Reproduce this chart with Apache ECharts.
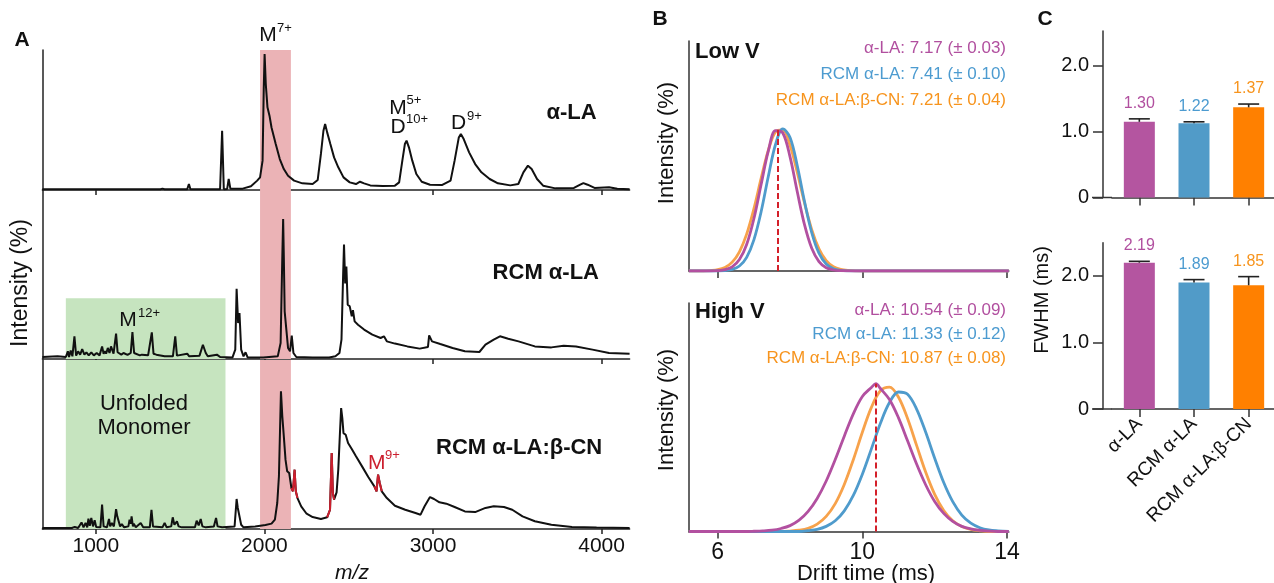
<!DOCTYPE html>
<html><head><meta charset="utf-8">
<script src="https://cdn.jsdelivr.net/npm/echarts@6/dist/echarts.min.js"></script>
<style>html,body{margin:0;padding:0;background:#fff}#c{width:1274px;height:583px}</style>
</head><body><div id="c"></div>
<script>
// ---------------- DATA ----------------
// Panel A: mass spectra [m/z, intensity %]
const mzTicks = [1000, 2000, 3000, 4000];
const specALA = [[683,0.5],[1383,0.5],[1395,1.0],[1408,0.5],[1542,0.5],[1552,4.4],[1561,0.5],[1737,0.5],[1749,43.6],[1759,0.6],[1779,0.8],[1788,8.1],[1798,1.0],[1871,1.0],[1920,2.7],[1957,6.9],[1974,9.3],[1989,21.6],[1996,75],[2001,100],[2008,78],[2018,60.8],[2030,54.7],[2042,46],[2067,33.8],[2091,22.8],[2115,15.4],[2140,10.5],[2176,6.9],[2225,4.9],[2286,4.4],[2316,7.4],[2335,26.5],[2350,43.6],[2360,48.5],[2372,42.4],[2391,33.8],[2413,24],[2438,16.7],[2469,9.3],[2506,5.6],[2543,4.4],[2567,6.1],[2591,4.9],[2628,3.4],[2701,2.9],[2774,3.2],[2799,5.6],[2818,21.6],[2833,33.8],[2843,36.3],[2857,31.4],[2877,21.6],[2901,11.8],[2933,6.1],[2982,3.9],[3055,3.7],[3104,6.9],[3128,21.6],[3153,38.7],[3165,41.2],[3182,37.5],[3214,27.7],[3250,19.1],[3287,13],[3336,8.1],[3385,4.9],[3458,3.4],[3506,4.4],[3536,13],[3563,17.9],[3585,15.4],[3617,8.1],[3653,3.2],[3726,1.2],[3836,1.5],[3873,3.9],[3892,5.1],[3917,3.9],[3958,1.5],[4044,2.0],[4093,1],[4166,0.5]];
const specRCM = [[683,1.4],[773,1.9],[822,1.4],[834,5.5],[841,1.4],[851,6.0],[861,1.9],[873,16.2],[883,2.4],[895,5.5],[907,3.1],[919,7.1],[932,3.1],[944,4.8],[958,2.6],[973,4.8],[988,2.6],[1005,4.3],[1022,2.6],[1037,9.0],[1046,3.8],[1054,5.5],[1061,3.8],[1071,7.9],[1081,4.3],[1090,9.0],[1105,3.8],[1120,18.1],[1129,4.8],[1139,5.5],[1151,3.1],[1164,4.3],[1188,2.9],[1207,4.3],[1217,19.3],[1227,4.3],[1237,4.3],[1261,2.6],[1273,3.1],[1310,2.6],[1332,19],[1342,3.8],[1359,3.1],[1408,1.9],[1457,1.9],[1471,16.2],[1481,2.4],[1542,3.8],[1554,1.9],[1615,2.4],[1635,10.2],[1652,4.3],[1664,1.9],[1718,3.1],[1737,1.4],[1810,1.0],[1827,6.7],[1835,50.2],[1844,25.7],[1852,32.9],[1862,6.7],[1876,1.9],[1888,4.8],[1901,1.0],[1993,1.0],[2079,1.9],[2096,11.4],[2106,73],[2111,100],[2115,73],[2120,34],[2130,21],[2140,7.9],[2152,5.5],[2162,16.7],[2172,4.3],[2189,1.4],[2286,1.0],[2384,1.0],[2421,1.9],[2445,4.3],[2457,13.8],[2467,61],[2472,81.7],[2479,54],[2486,66],[2494,38.8],[2506,37.6],[2518,30.5],[2525,34.8],[2535,26.9],[2555,24.5],[2591,21],[2640,17.4],[2689,15],[2709,16.2],[2726,12.6],[2774,11],[2848,9],[2921,7.4],[2970,8.6],[2977,16.9],[2994,12.6],[3043,10.7],[3116,7.9],[3189,5.5],[3275,5],[3311,10.2],[3360,13.8],[3397,16.2],[3446,14.5],[3507,12.6],[3604,9],[3702,8.3],[3775,9.5],[3848,9],[3946,6.7],[4044,4.3],[4166,3.8]];
const specMix = [[683,0.7],[858,0.7],[875,1.5],[895,0.7],[915,4.8],[927,1.2],[939,4.4],[949,1.2],[956,7.5],[964,2.4],[973,8.0],[983,1.9],[993,6.3],[1002,1.5],[1012,1.9],[1027,1.2],[1037,17.7],[1046,1.9],[1054,3.1],[1066,1.2],[1078,7.3],[1085,1.9],[1095,4.4],[1107,1.9],[1120,14.5],[1127,9.2],[1134,10.4],[1144,1.9],[1154,3.6],[1168,1.2],[1193,1.9],[1200,6.8],[1207,3.9],[1212,9.2],[1220,1.9],[1225,3.9],[1237,1.2],[1266,4.4],[1281,1.2],[1320,1.2],[1330,14],[1339,1.9],[1395,1.2],[1408,4.4],[1420,1.2],[1447,1.9],[1456,8.5],[1466,3.1],[1481,5.6],[1491,1.9],[1500,3.1],[1510,1.2],[1588,1.2],[1598,6],[1610,2.6],[1622,7.3],[1632,1.9],[1639,3.1],[1652,1.2],[1700,1.9],[1713,8],[1722,1.9],[1749,1.2],[1823,1.9],[1835,21.8],[1842,15.3],[1849,14],[1862,3.1],[1876,1.2],[1945,1.9],[2006,2.9],[2042,3.9],[2062,6.8],[2076,18.9],[2086,38.3],[2093,74.6],[2098,100],[2106,81.8],[2115,67.3],[2125,50.4],[2135,41.9],[2147,40.7],[2160,29.8],[2169,27.4],[2179,43.1],[2186,27.4],[2196,22.5],[2218,16.5],[2250,11.1],[2286,8.7],[2335,7.3],[2372,8.5],[2389,14],[2399,55.2],[2406,26.2],[2413,21.3],[2428,26.6],[2438,43.1],[2447,67.3],[2455,87.9],[2462,80.6],[2469,69.7],[2482,68.5],[2496,62.5],[2518,58.1],[2543,52.8],[2579,45.5],[2616,37.8],[2652,31],[2665,27.4],[2674,39.5],[2684,33.4],[2696,27.4],[2726,22.5],[2774,16.9],[2835,14],[2896,11.6],[2926,10.4],[2950,16.5],[2982,23.2],[3006,21.8],[3038,19.4],[3079,18.4],[3128,16],[3189,12.8],[3250,12.3],[3311,15.3],[3360,16.5],[3421,16],[3470,14],[3531,9.2],[3604,5.6],[3702,3.1],[3824,1.5],[3970,1.0],[4166,0.7]];
const redRanges = [[2158,2197],[2370,2414],[2650,2700]];   // m/z ranges drawn in red
const bandM7 = [1974, 2157];        // pink band
const bandUnfolded = [822, 1769];   // green band

// Panel B: arrival time distributions [drift time ms, intensity]
const driftTicks = [6, 10, 14];
const lowALA = [[5.2,0],[5.8,0],[6.0,0.2],[6.2,0.9],[6.4,2.9],[6.6,8.0],[6.8,18.6],[7.0,36.7],[7.2,60.7],[7.4,84.3],[7.6,98.6],[7.8,96.9],[8.0,80.1],[8.2,55.6],[8.4,32.5],[8.6,15.9],[8.8,6.6],[9.0,2.3],[9.2,0.7],[9.4,0.2],[9.8,0],[14.05,0]];
const lowRCM = [[5.2,0],[6.0,0],[6.2,0.3],[6.4,1.1],[6.6,3.5],[6.8,9.6],[7.0,21.9],[7.2,41.6],[7.4,66.5],[7.6,89.0],[7.8,99.8],[8.0,93.8],[8.2,73.9],[8.4,48.8],[8.6,27.0],[8.8,12.5],[9.0,4.9],[9.2,1.6],[9.4,0.4],[9.6,0.1],[10.0,0],[14.05,0]];
const lowMix = [[5.2,0],[5.6,0],[5.8,0.3],[6.0,0.9],[6.2,2.5],[6.4,6.2],[6.6,13.5],[6.8,25.9],[7.0,43.7],[7.2,65.0],[7.4,84.9],[7.6,97.7],[7.8,99.0],[8.0,88.2],[8.2,69.2],[8.4,47.8],[8.6,29.1],[8.8,15.6],[9.0,7.3],[9.2,3.0],[9.4,1.1],[9.6,0.4],[10.0,0],[14.05,0]];
const highALA = [[5.2,0],[6.75,0],[7.0,0.15],[7.25,0.4],[7.5,0.9],[7.75,2.0],[8.0,3.9],[8.25,7.5],[8.5,13.3],[8.75,21.9],[9.0,33.5],[9.25,47.7],[9.5,63.2],[9.75,78.0],[10.0,89.5],[10.25,95.5],[10.375,98],[10.5,94.8],[10.75,87.5],[11.0,75.3],[11.25,60.1],[11.5,44.7],[11.75,31.0],[12.0,19.9],[12.25,12.0],[12.5,6.7],[12.75,3.4],[13.0,1.7],[13.25,0.8],[13.5,0.3],[13.75,0],[14.05,0]];
const highRCM = [[5.2,0],[8.25,0],[8.5,0.56],[8.75,1.4],[9.0,3.4],[9.25,7.1],[9.5,13.7],[9.75,23.9],[10.0,38.0],[10.25,54.8],[10.5,71.8],[10.75,85.5],[11.0,92.5],[11.25,91.0],[11.5,81.2],[11.75,65.9],[12.0,48.6],[12.25,32.5],[12.5,19.8],[12.75,10.9],[13.0,5.5],[13.25,2.5],[13.5,1.0],[13.75,0.4],[14.05,0]];
const highMix = [[5.2,0],[7.75,0],[8.0,0.3],[8.25,0.85],[8.5,2.1],[8.75,4.9],[9.0,10.0],[9.25,18.5],[9.5,31.2],[9.75,47.6],[10.0,65.8],[10.25,82.3],[10.5,93.3],[10.75,95.7],[11.0,89.0],[11.25,74.9],[11.5,57.1],[11.75,39.4],[12.0,24.6],[12.25,13.9],[12.5,7.1],[12.75,3.3],[13.0,1.4],[13.25,0.5],[13.5,0],[14.05,0]];
const lowPeakALA = [7.66, 99];    // dashed marker (drift, height)
const highPeakALA = [10.37, 98];
const lowLegend = ['α-LA: 7.17 (± 0.03)', 'RCM α-LA: 7.41 (± 0.10)', 'RCM α-LA:β-CN: 7.21 (± 0.04)'];
const highLegend = ['α-LA: 10.54 (± 0.09)', 'RCM α-LA: 11.33 (± 0.12)', 'RCM α-LA:β-CN: 10.87 (± 0.08)'];

// Panel C: FWHM bars
const fwhmCats = ['α-LA', 'RCM α-LA', 'RCM α-LA:β-CN'];
const fwhmTicks = [0, 1, 2];
const lowFwhm = [1.15, 1.13, 1.37];
const lowErr = [0.045, 0.02, 0.05];
const lowLabels = ['1.30', '1.22', '1.37'];
const highFwhm = [2.20, 1.90, 1.86];
const highErr = [0.02, 0.045, 0.13];
const highLabels = ['2.19', '1.89', '1.85'];

// ---------------- STYLE ----------------
const F = "'Liberation Sans', Arial, Helvetica, sans-serif";
const PURPLE = '#b455a0', BLUE = '#519bc8', ORANGE = '#ff8000';
const LP = '#b250a0', LB = '#4f9bcc', LO = '#f7a24b';
const TP = '#b14f9f', TB = '#4c9bd0', TO = '#f7941d';
const RED = '#cc1f2e', PINK = '#ebb3b6', GREEN = '#c6e4bf';
const AX = '#222';
const A_MAX = [103, 120.7, 122.8];

const chart = echarts.init(document.getElementById('c'), null, {renderer: 'canvas'});

const gridsA = [
  {left: 42.4, width: 587.2, top: 50, height: 140},
  {left: 42.4, width: 587.2, top: 190, height: 169},
  {left: 42.4, width: 587.2, top: 360, height: 169}
];
const gridsB = [
  {left: 688.8, width: 320, top: 41, height: 230},
  {left: 688.8, width: 320, top: 303, height: 228.5}
];
const gridsC = [
  {left: 1112, width: 164, top: 31, height: 166.5},
  {left: 1112, width: 164, top: 242.7, height: 166.3}
];
const grid = [...gridsA, ...gridsB, ...gridsC].map(g => Object.assign({containLabel: false, outerBoundsMode: 'none'}, g));

const xAxis = [], yAxis = [], series = [];
const plain = v => String(v);

// Panel A axes
for (let i = 0; i < 3; i++) {
  xAxis.push({type: 'value', gridIndex: i, min: 683, max: 4166,
    axisLine: {show: true, onZero: false, lineStyle: {color: AX, width: 1.5}},
    axisTick: {show: true, length: 5, customValues: mzTicks, lineStyle: {color: AX, width: 1.5}},
    axisLabel: {show: i === 2, customValues: mzTicks, formatter: plain, fontFamily: F, fontSize: 21, color: '#111', margin: 7},
    splitLine: {show: false}});
  yAxis.push({type: 'value', gridIndex: i, min: 0, max: A_MAX[i],
    axisLine: {show: true, lineStyle: {color: AX, width: 1.5}},
    axisTick: {show: false}, axisLabel: {show: false}, splitLine: {show: false}});
}
// Panel B axes
for (let i = 0; i < 2; i++) {
  xAxis.push({type: 'value', gridIndex: 3 + i, min: 5.2, max: 14.05,
    axisLine: {show: true, onZero: false, lineStyle: {color: '#333', width: 1.5}},
    axisTick: {show: true, length: 7, customValues: driftTicks, lineStyle: {color: '#333', width: 1.5}},
    axisLabel: {show: i === 1, customValues: driftTicks, formatter: plain, fontFamily: F, fontSize: 23, color: '#111', margin: 10},
    splitLine: {show: false}});
  yAxis.push({type: 'value', gridIndex: 3 + i, min: 0, max: i === 0 ? 161.5 : 151.5,
    axisLine: {show: true, lineStyle: {color: '#333', width: 1.5}},
    axisTick: {show: false}, axisLabel: {show: false}, splitLine: {show: false}});
}
// Panel C axes
for (let i = 0; i < 2; i++) {
  xAxis.push({type: 'category', gridIndex: 5 + i, data: fwhmCats,
    axisLine: {show: true, onZero: false, lineStyle: {color: '#333', width: 1.5}},
    axisTick: {show: true, alignWithLabel: true, length: 8, lineStyle: {color: '#333', width: 1.5}},
    axisLabel: {show: i === 1, rotate: 45, fontFamily: F, fontSize: 19, color: '#111', margin: 12, interval: 0},
    splitLine: {show: false}});
  yAxis.push({type: 'value', gridIndex: 5 + i, min: 0, max: i === 0 ? 2.53 : 2.5, offset: 9,
    axisLine: {show: true, lineStyle: {color: '#333', width: 1.5}},
    axisTick: {show: true, length: 10, customValues: fwhmTicks, lineStyle: {color: '#333', width: 1.5}},
    axisLabel: {show: true, customValues: fwhmTicks, fontFamily: F, fontSize: 20, color: '#111', margin: 14,
      formatter: v => (v === 0 ? '0' : v.toFixed(1))},
    splitLine: {show: false}});
}

// Panel A series
const bandPink = (ymax) => [{xAxis: bandM7[0], yAxis: 0, itemStyle: {color: PINK}}, {xAxis: bandM7[1], yAxis: ymax}];
const bandGreen = (ymax) => [{xAxis: bandUnfolded[0], yAxis: 0, itemStyle: {color: GREEN}}, {xAxis: bandUnfolded[1], yAxis: ymax}];
const specs = [specALA, specRCM, specMix];
const areas = [
  [bandPink(A_MAX[0])],
  [bandPink(A_MAX[1]), bandGreen(43.4)],
  [bandPink(A_MAX[2]), bandGreen(A_MAX[2])]
];
specs.forEach((d, i) => {
  series.push({type: 'line', xAxisIndex: i, yAxisIndex: i, data: d, symbol: 'none', z: 3,
    lineStyle: {color: '#111', width: 2}, itemStyle: {color: '#111'}, silent: true, animation: false,
    markArea: {silent: true, z: 1, label: {show: false}, data: areas[i]}});
});
const redData = specMix.map(p => redRanges.some(r => p[0] >= r[0] && p[0] <= r[1]) ? p : [p[0], '-']);
series.push({type: 'line', xAxisIndex: 2, yAxisIndex: 2, data: redData, symbol: 'none', z: 4, connectNulls: false,
  lineStyle: {color: RED, width: 2}, silent: true, animation: false});

// Panel B series
const curveSets = [
  [[lowMix, LO], [lowRCM, LB], [lowALA, LP]],
  [[highMix, LO], [highRCM, LB], [highALA, LP]]
];
const peaks = [lowPeakALA, highPeakALA];
curveSets.forEach((set, gi) => {
  set.forEach(([d, c], k) => {
    const s = {type: 'line', xAxisIndex: 3 + gi, yAxisIndex: 3 + gi, data: d, symbol: 'none', smooth: 0.35,
      lineStyle: {color: c, width: 2.8}, itemStyle: {color: c}, z: 3 + k, silent: true, animation: false};
    if (k === 2) {
      s.markLine = {silent: true, symbol: 'none', z: 10, label: {show: false},
        lineStyle: {type: [6, 3], color: '#d4202a', width: 2},
        data: [[{coord: [peaks[gi][0], 0]}, {coord: [peaks[gi][0], peaks[gi][1]]}]]};
    }
    series.push(s);
  });
});

// Panel C series
const barColors = [PURPLE, BLUE, ORANGE];
const textColors = [TP, TB, TO];
function errSeries(gi, vals, errs, labels) {
  return {type: 'custom', xAxisIndex: 5 + gi, yAxisIndex: 5 + gi, z: 5, silent: true, animation: false,
    data: vals.map((v, i) => [i, v, errs[i]]),
    renderItem: (params, api) => {
      const x = api.value(0), v = api.value(1), e = api.value(2);
      const p0 = api.coord([x, v]), p1 = api.coord([x, v + e]);
      const st = {stroke: '#222', lineWidth: 1.6};
      return {type: 'group', children: [
        {type: 'line', shape: {x1: p0[0], y1: p0[1], x2: p1[0], y2: p1[1]}, style: st},
        {type: 'line', shape: {x1: p1[0] - 10.5, y1: p1[1], x2: p1[0] + 10.5, y2: p1[1]}, style: st},
        {type: 'text', x: p1[0], y: p1[1] - 15.5, style: {text: labels[params.dataIndex], fill: textColors[params.dataIndex],
          font: '16px ' + F, align: 'center', verticalAlign: 'middle'}}
      ]};
    }};
}
[[lowFwhm, lowErr, lowLabels], [highFwhm, highErr, highLabels]].forEach(([vals, errs, labels], gi) => {
  series.push({type: 'bar', xAxisIndex: 5 + gi, yAxisIndex: 5 + gi, barWidth: 31, z: 2, silent: true, animation: false,
    data: vals.map((v, i) => ({value: v, itemStyle: {color: barColors[i]}}))});
  series.push(errSeries(gi, vals, errs, labels));
});

// ---------------- TEXT ANNOTATIONS ----------------
function T(x, y, text, o = {}) {
  return {type: 'text', x: x, y: y, rotation: o.rot || 0, silent: true, z: 100,
    style: {text: text, font: (o.it ? 'italic ' : '') + (o.b ? 'bold ' : '') + (o.size || 16) + 'px ' + F,
      fill: o.color || '#111', align: o.align || 'left', verticalAlign: o.va || 'middle'}};
}
const graphic = [
  // panel letters
  T(22, 40, 'A', {b: 1, size: 21, align: 'center'}),
  T(660, 19, 'B', {b: 1, size: 21, align: 'center'}),
  T(1045, 19, 'C', {b: 1, size: 21, align: 'center'}),
  // panel A labels
  T(268, 35, 'M', {size: 21, align: 'center'}), T(277, 28, '7+', {size: 13}),
  T(398, 108, 'M', {size: 21, align: 'center'}), T(406.5, 100, '5+', {size: 13}),
  T(398, 127, 'D', {size: 21, align: 'center'}), T(406, 119, '10+', {size: 13}),
  T(451, 123, 'D', {size: 21}), T(467, 116, '9+', {size: 13}),
  T(546.5, 113, 'α-LA', {b: 1, size: 22}),
  T(492.6, 273, 'RCM α-LA', {b: 1, size: 22}),
  T(119.3, 320, 'M', {size: 21}), T(138, 313, '12+', {size: 13}),
  T(144, 404, 'Unfolded', {size: 22, align: 'center'}),
  T(144, 428, 'Monomer', {size: 22, align: 'center'}),
  T(436, 448, 'RCM α-LA:β-CN', {b: 1, size: 22}),
  T(368, 463, 'M', {size: 21, color: RED}), T(385, 455, '9+', {size: 13, color: RED}),
  T(21, 283, 'Intensity (%)', {size: 23, align: 'center', rot: Math.PI / 2}),
  T(352, 573, 'm/z', {it: 1, size: 21, align: 'center'}),
  // panel B labels
  T(695, 52, 'Low V', {b: 1, size: 22}),
  T(1006, 48.6, lowLegend[0], {size: 17, align: 'right', color: TP}),
  T(1006, 73.9, lowLegend[1], {size: 17, align: 'right', color: TB}),
  T(1006, 100.1, lowLegend[2], {size: 17, align: 'right', color: TO}),
  T(695, 312, 'High V', {b: 1, size: 22}),
  T(1006, 310.7, highLegend[0], {size: 17, align: 'right', color: TP}),
  T(1006, 334.3, highLegend[1], {size: 17, align: 'right', color: TB}),
  T(1006, 358.3, highLegend[2], {size: 17, align: 'right', color: TO}),
  T(667, 143, 'Intensity (%)', {size: 22, align: 'center', rot: Math.PI / 2}),
  T(667, 410, 'Intensity (%)', {size: 22, align: 'center', rot: Math.PI / 2}),
  T(866, 574, 'Drift time (ms)', {size: 22, align: 'center'}),
  // panel C labels
  T(1042, 300, 'FWHM (ms)', {size: 20, align: 'center', rot: Math.PI / 2}),
  // x-axis line stubs left of the y axis in panel C
  {type: 'line', silent: true, z: 50, shape: {x1: 1092, y1: 197.5, x2: 1112, y2: 197.5}, style: {stroke: '#333', lineWidth: 1.5}},
  {type: 'line', silent: true, z: 50, shape: {x1: 1092, y1: 409, x2: 1112, y2: 409}, style: {stroke: '#333', lineWidth: 1.5}}
];

chart.setOption({animation: false, backgroundColor: '#fff', grid, xAxis, yAxis, series, graphic});
</script></body></html>
